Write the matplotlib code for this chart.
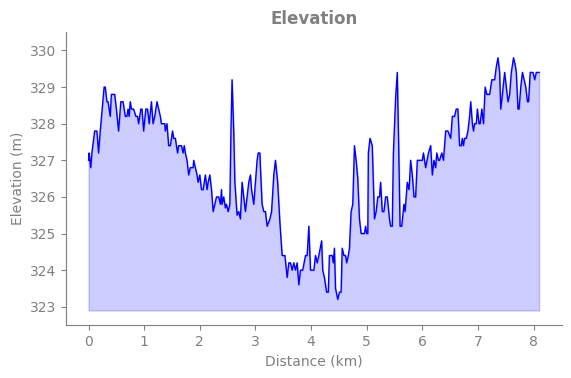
import numpy as np
import matplotlib
matplotlib.use("Agg")
import matplotlib.pyplot as plt

# distance along the route (km) and elevation (m)
dist = [0.00, 0.01, 0.04, 0.06, 0.11, 0.15, 0.18, 0.21, 0.25, 0.28,
        0.30, 0.33, 0.35, 0.39, 0.41, 0.47, 0.50, 0.54, 0.58, 0.62,
        0.66, 0.69, 0.71, 0.73, 0.75, 0.77, 0.81, 0.85, 0.88, 0.90,
        0.94, 0.96, 0.99, 1.03, 1.06, 1.09, 1.13, 1.16, 1.19, 1.23,
        1.26, 1.29, 1.31, 1.37, 1.38, 1.41, 1.44, 1.47, 1.51, 1.53,
        1.56, 1.60, 1.62, 1.67, 1.70, 1.72, 1.74, 1.77, 1.80, 1.83,
        1.88, 1.89, 1.92, 1.95, 1.97, 2.00, 2.03, 2.06, 2.10, 2.13,
        2.15, 2.18, 2.21, 2.24, 2.27, 2.30, 2.34, 2.37, 2.39, 2.40,
        2.43, 2.46, 2.48, 2.51, 2.54, 2.56, 2.58, 2.61, 2.63, 2.67,
        2.70, 2.73, 2.76, 2.79, 2.82, 2.85, 2.88, 2.91, 2.93, 2.97,
        3.00, 3.03, 3.05, 3.08, 3.09, 3.12, 3.15, 3.18, 3.21, 3.26,
        3.29, 3.33, 3.36, 3.40, 3.44, 3.48, 3.53, 3.57, 3.60, 3.63,
        3.66, 3.69, 3.72, 3.75, 3.78, 3.81, 3.85, 3.90, 3.93, 3.96,
        3.99, 4.02, 4.05, 4.08, 4.11, 4.14, 4.19, 4.21, 4.24, 4.28,
        4.31, 4.33, 4.38, 4.40, 4.42, 4.44, 4.48, 4.51, 4.54, 4.56,
        4.59, 4.62, 4.64, 4.67, 4.69, 4.72, 4.75, 4.78, 4.81, 4.84,
        4.87, 4.90, 4.93, 4.96, 4.98, 5.00, 5.02, 5.03, 5.06, 5.10,
        5.14, 5.17, 5.20, 5.23, 5.25, 5.28, 5.31, 5.34, 5.37, 5.41,
        5.43, 5.46, 5.48, 5.52, 5.55, 5.58, 5.60, 5.63, 5.67, 5.69,
        5.73, 5.76, 5.77, 5.79, 5.82, 5.85, 5.88, 5.91, 5.95, 6.00,
        6.02, 6.06, 6.11, 6.15, 6.18, 6.21, 6.24, 6.26, 6.29, 6.31,
        6.35, 6.38, 6.39, 6.42, 6.46, 6.51, 6.54, 6.58, 6.61, 6.64,
        6.67, 6.70, 6.72, 6.74, 6.76, 6.79, 6.82, 6.85, 6.87, 6.90,
        6.92, 6.94, 6.97, 6.99, 7.02, 7.04, 7.07, 7.10, 7.13, 7.16,
        7.21, 7.25, 7.30, 7.33, 7.36, 7.39, 7.41, 7.44, 7.48, 7.51,
        7.54, 7.57, 7.60, 7.64, 7.67, 7.69, 7.72, 7.74, 7.77, 7.80,
        7.83, 7.86, 7.89, 7.91, 7.94, 7.99, 8.02, 8.05, 8.10]

elev = [327.0, 327.2, 326.8, 327.2, 327.8, 327.8, 327.2, 327.8, 328.5, 329.0,
        329.0, 328.6, 328.6, 328.2, 328.8, 328.8, 328.4, 327.8, 328.6, 328.6,
        328.2, 328.2, 328.4, 328.2, 328.6, 328.4, 328.4, 328.2, 328.2, 328.0,
        328.4, 328.4, 327.8, 328.4, 328.4, 328.0, 328.6, 328.0, 328.2, 328.6,
        328.4, 328.2, 328.0, 328.0, 327.8, 328.0, 327.4, 327.4, 327.8, 327.6,
        327.6, 327.2, 327.4, 327.4, 327.2, 327.4, 327.2, 327.0, 326.6, 326.8,
        326.8, 327.0, 326.8, 326.6, 326.4, 326.6, 326.2, 326.2, 326.6, 326.2,
        326.4, 326.6, 326.2, 325.6, 325.8, 326.0, 326.0, 325.8, 326.2, 325.8,
        326.0, 325.7, 325.8, 325.6, 325.8, 327.8, 329.2, 327.8, 326.4, 325.5,
        325.6, 325.4, 326.4, 326.0, 325.6, 326.0, 326.4, 326.6, 326.2, 325.8,
        326.4, 327.0, 327.2, 327.2, 326.8, 325.8, 325.6, 325.6, 325.2, 325.4,
        325.6, 326.6, 327.0, 326.4, 325.3, 324.4, 324.4, 323.8, 324.2, 324.2,
        324.0, 324.2, 324.0, 324.2, 323.6, 324.0, 324.0, 324.4, 324.4, 325.2,
        324.0, 324.0, 324.0, 324.4, 324.2, 324.4, 324.8, 324.0, 323.8, 323.4,
        323.4, 324.4, 324.4, 324.2, 324.6, 323.5, 323.2, 323.4, 323.4, 324.6,
        324.4, 324.4, 324.2, 324.4, 324.6, 325.6, 325.8, 327.4, 327.0, 326.5,
        325.4, 325.0, 325.0, 325.0, 325.2, 325.0, 325.0, 327.2, 327.6, 327.4,
        325.4, 325.6, 326.0, 326.0, 326.4, 325.6, 325.6, 326.0, 326.0, 325.4,
        325.2, 325.2, 327.2, 328.7, 329.4, 327.0, 325.2, 325.2, 325.8, 325.6,
        326.4, 326.2, 326.4, 327.0, 326.6, 326.0, 326.0, 327.0, 327.0, 327.0,
        327.2, 326.8, 327.2, 327.4, 326.6, 327.0, 326.8, 327.2, 327.0, 327.0,
        327.2, 327.0, 327.2, 327.8, 327.8, 327.6, 328.2, 328.2, 328.4, 328.4,
        327.4, 327.4, 327.6, 327.4, 327.6, 327.6, 327.8, 328.2, 328.6, 328.0,
        327.8, 328.0, 328.0, 328.4, 328.0, 328.0, 328.4, 328.0, 329.0, 328.8,
        328.8, 329.2, 329.2, 329.55, 329.8, 329.4, 328.4, 328.8, 329.4, 329.0,
        328.6, 328.8, 329.4, 329.8, 329.6, 329.4, 328.4, 328.4, 329.0, 329.4,
        329.2, 329.0, 328.6, 328.6, 329.4, 329.4, 329.2, 329.4, 329.4]

dist = np.array(dist)
elev = np.array(elev)
base = elev.min() - 0.3

fig = plt.figure(figsize=(5.71, 3.78), dpi=100)
ax = fig.add_axes([0.1156, 0.140, 0.868, 0.775])

ax.plot(dist, elev, color='blue', lw=1)
ax.fill_between(dist, elev, base, color='blue', alpha=0.2)

ax.set_ylim(322.5, 330.5)
ax.set_title('Elevation', color='gray', fontweight='bold', fontsize=12)
ax.set_xlabel('Distance (km)', color='gray')
ax.set_ylabel('Elevation (m)', color='gray')

for s in ['top', 'right']:
    ax.spines[s].set_visible(False)
for s in ['left', 'bottom']:
    ax.spines[s].set_color('gray')
ax.tick_params(colors='gray', labelsize=10)

fig.savefig('out.png', dpi=100)
